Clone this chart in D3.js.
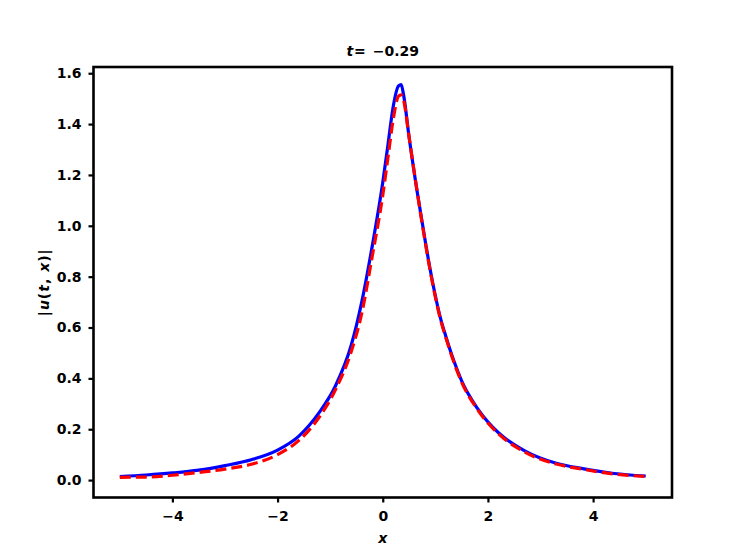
<!DOCTYPE html>
<html>
<head>
<meta charset="utf-8">
<script src="https://cdn.jsdelivr.net/npm/d3@7"></script>
<style>
  body { margin: 0; background: #fff; }
  text { font-family: "DejaVu Sans", sans-serif; }
</style>
</head>
<body>
<svg id="chart" width="747" height="559"></svg>
<script>
// Data
const xValues = [-5, -4.5, -4, -3.5, -3, -2.5, -2, -1.6, -1.2, -0.9, -0.6, -0.4, -0.2, 0, 0.1, 0.2, 0.3, 0.35, 0.4, 0.5, 0.65, 0.8, 0.9, 1.0, 1.1, 1.2, 1.35, 1.5, 1.8, 2.2, 2.7, 3.3, 3.8, 4.4, 5];
const blueSeries = [0.014, 0.020, 0.028, 0.039, 0.057, 0.080, 0.118, 0.172, 0.268, 0.37, 0.53, 0.70, 0.92, 1.17, 1.32, 1.47, 1.55, 1.555, 1.51, 1.35, 1.14, 0.95, 0.83, 0.725, 0.635, 0.565, 0.47, 0.39, 0.282, 0.186, 0.115, 0.066, 0.045, 0.026, 0.016];
const redSeries = [0.011, 0.012, 0.019, 0.030, 0.043, 0.062, 0.100, 0.155, 0.250, 0.355, 0.505, 0.655, 0.88, 1.12, 1.27, 1.42, 1.51, 1.515, 1.49, 1.35, 1.14, 0.945, 0.825, 0.72, 0.63, 0.56, 0.465, 0.385, 0.278, 0.182, 0.110, 0.063, 0.043, 0.024, 0.014];
const xTicks = [-4, -2, 0, 2, 4];
const yTicks = [0.0, 0.2, 0.4, 0.6, 0.8, 1.0, 1.2, 1.4, 1.6];
const titleValue = "0.29";

const svg = d3.select("#chart");
const mLeft = 93.5, mRight = 672, mTop = 67, mBottom = 497.5;

const x = d3.scaleLinear().domain([-5.5, 5.5]).range([mLeft, mRight]);
const y = d3.scaleLinear().domain([-0.0685, 1.6245]).range([mBottom, mTop]);

const fmtMinus = s => s.replace("-", "−");

// Axes
const xAxis = d3.axisBottom(x).tickValues(xTicks).tickSize(5).tickPadding(9)
  .tickFormat(d => fmtMinus(d3.format("d")(d)));
const yAxis = d3.axisLeft(y).tickValues(yTicks).tickSize(5).tickPadding(7)
  .tickFormat(d => d3.format(".1f")(d));

const gx = svg.append("g").attr("transform", `translate(0,${mBottom})`).call(xAxis);
const gy = svg.append("g").attr("transform", `translate(${mLeft},0)`).call(yAxis);
[gx, gy].forEach(g => {
  g.select(".domain").remove();
  g.selectAll(".tick line").attr("stroke", "#000").attr("stroke-width", 2.2);
  g.selectAll(".tick text").attr("fill", "#000").attr("font-size", 14)
    .attr("font-weight", "bold").attr("font-family", "DejaVu Sans, sans-serif");
});

// Lines
const clipId = "clip";
svg.append("clipPath").attr("id", clipId).append("rect")
  .attr("x", mLeft).attr("y", mTop).attr("width", mRight - mLeft).attr("height", mBottom - mTop);

const line = d3.line().curve(d3.curveMonotoneX).x(d => x(d[0])).y(d => y(d[1]));
const blueData = xValues.map((v, i) => [v, blueSeries[i]]);
const redData = xValues.map((v, i) => [v, redSeries[i]]);

svg.append("path").datum(blueData).attr("d", line)
  .attr("fill", "none").attr("stroke", "#0000ff").attr("stroke-width", 3.2)
  .attr("clip-path", `url(#${clipId})`);
svg.append("path").datum(redData).attr("d", line)
  .attr("fill", "none").attr("stroke", "#ff0000").attr("stroke-width", 3.2)
  .attr("stroke-dasharray", "11,5")
  .attr("clip-path", `url(#${clipId})`);

// Frame
svg.append("rect").attr("x", mLeft).attr("y", mTop)
  .attr("width", mRight - mLeft).attr("height", mBottom - mTop)
  .attr("fill", "none").attr("stroke", "#000").attr("stroke-width", 2.6);

// Title
const title = svg.append("text").attr("x", (mLeft + mRight) / 2).attr("y", 56)
  .attr("text-anchor", "middle").attr("font-size", 14).attr("font-weight", "bold");
title.append("tspan").attr("font-style", "italic").text("t");
title.append("tspan").attr("dx", 1).text("=");
title.append("tspan").attr("dx", 7).text("−");
title.append("tspan").text(titleValue);

// X label
svg.append("text").attr("x", (mLeft + mRight) / 2).attr("y", 543)
  .attr("text-anchor", "middle").attr("font-size", 14).attr("font-weight", "bold")
  .attr("font-style", "italic").text("x");

// Y label
const yl = svg.append("text").attr("transform", `translate(49,${(mTop + mBottom) / 2}) rotate(-90)`)
  .attr("text-anchor", "middle").attr("font-size", 14).attr("font-weight", "bold")
  .attr("letter-spacing", 1);
yl.append("tspan").text("|");
yl.append("tspan").attr("font-style", "italic").text("u");
yl.append("tspan").text("(");
yl.append("tspan").attr("font-style", "italic").text("t");
yl.append("tspan").text(", ");
yl.append("tspan").attr("font-style", "italic").text("x");
yl.append("tspan").text(")|");
</script>
</body>
</html>
